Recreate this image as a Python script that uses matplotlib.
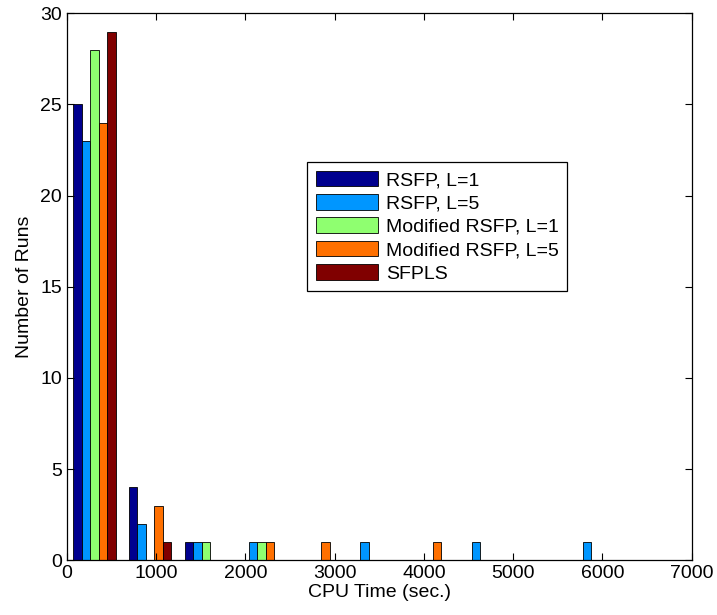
import numpy as np
import matplotlib
matplotlib.use('Agg')
import matplotlib.pyplot as plt

plt.rcParams['font.family'] = ['Liberation Sans', 'DejaVu Sans']

### Histogram counts (10 bins)
bin_centers = [308, 932, 1556, 2180, 2804, 3428, 4052, 4676, 5300, 5924]

series_names = ['RSFP, L=1', 'RSFP, L=5', 'Modified RSFP, L=1',
                'Modified RSFP, L=5', 'SFPLS']

rsfp_l1 = [25, 4, 1, 0, 0, 0, 0, 0, 0, 0]
rsfp_l5 = [23, 2, 1, 1, 0, 1, 0, 1, 0, 1]
mod_l1 = [28, 0, 1, 1, 0, 0, 0, 0, 0, 0]
mod_l5 = [24, 3, 0, 1, 1, 0, 1, 0, 0, 0]
sfpls = [29, 1, 0, 0, 0, 0, 0, 0, 0, 0]

colors = ['#00008F', '#0096FF', '#8FFF70', '#FF7000', '#800000']

#%% Grouped bars, MATLAB style

fig = plt.figure(figsize=(7.17, 6.15), dpi=100)
ax = fig.add_axes([0.0934, 0.0889, 0.8713, 0.8895])

bin_w = bin_centers[1] - bin_centers[0]
n = 5
bar_w = bin_w * 0.763 / n
centers = np.array(bin_centers, dtype=float)

all_series = [rsfp_l1, rsfp_l5, mod_l1, mod_l5, sfpls]
for i, (vals, name, c) in enumerate(zip(all_series, series_names, colors)):
    ax.bar(centers + (i - (n - 1) / 2) * bar_w, vals, width=bar_w,
           color=c, edgecolor='black', linewidth=0.6, label=name)

ax.set_xlim(0, 7000)
ax.set_ylim(0, 30)
ax.set_xticks(np.arange(0, 7001, 1000))
ax.set_yticks(np.arange(0, 31, 5))
ax.tick_params(direction='in', top=True, right=True, length=5,
               labelsize=14, width=0.8)
ax.set_xlabel('CPU Time (sec.)', fontsize=14, labelpad=1)
ax.set_ylabel('Number of Runs', fontsize=14, labelpad=5)
for s in ax.spines.values():
    s.set_linewidth(0.9)

leg = ax.legend(loc='upper left', bbox_to_anchor=(307 / 717, 1 - 162 / 615),
                bbox_transform=fig.transFigure, fontsize=14, frameon=True,
                fancybox=False, edgecolor='black', framealpha=1,
                handlelength=3.2, handleheight=0.85, handletextpad=0.4,
                labelspacing=0.25, borderpad=0.45, borderaxespad=0)
leg.get_frame().set_linewidth(0.9)

fig.savefig('out.png', dpi=100)
